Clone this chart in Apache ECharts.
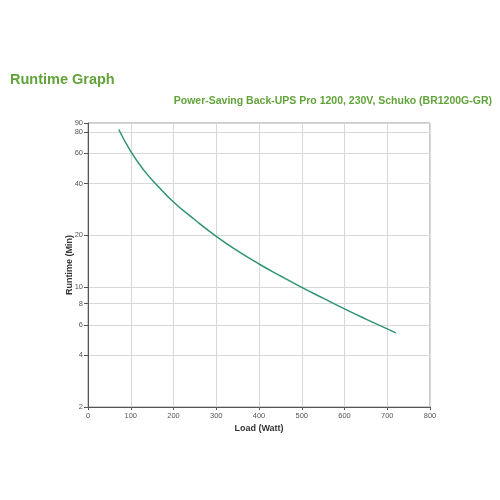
<!DOCTYPE html>
<html>
<head>
<meta charset="utf-8">
<script src="https://cdn.jsdelivr.net/npm/echarts@6/dist/echarts.min.js"></script>
<style>
html,body{margin:0;padding:0;background:#fff;}
#c{width:500px;height:500px;}
</style>
</head>
<body>
<div id="c"></div>
<script>
const loadWatt = [72, 100, 130, 160, 200, 250, 300, 350, 400, 450, 500, 550, 600, 650, 700, 720];
const runtimeMin = [82.5, 61.5, 48, 39.5, 31.2, 24.6, 19.7, 16.2, 13.6, 11.6, 9.95, 8.6, 7.45, 6.5, 5.7, 5.4];
const yTicks = [2, 4, 6, 8, 10, 20, 40, 60, 80, 90];
const xTicks = [0, 100, 200, 300, 400, 500, 600, 700, 800];

const font = 'Liberation Sans, Arial, sans-serif';
const chart = echarts.init(document.getElementById('c'));
chart.setOption({
  animation: false,
  backgroundColor: '#fff',
  title: [
    { text: 'Runtime Graph', left: 10, top: 72, padding: 0,
      textStyle: { fontFamily: font, fontSize: 14.5, fontWeight: 'bold', color: '#62a33a' } },
    { text: 'Power-Saving Back-UPS Pro 1200, 230V, Schuko (BR1200G-GR)', right: 8, top: 96, padding: 0,
      textStyle: { fontFamily: font, fontSize: 10.5, fontWeight: 'bold', color: '#62a33a' } }
  ],
  grid: { left: 88, right: 70, top: 123, bottom: 93, show: true, borderColor: '#999', borderWidth: 1 },
  xAxis: {
    type: 'value', min: 0, max: 800, interval: 100,
    name: 'Load (Watt)', nameLocation: 'middle', nameGap: 17, nameMoveOverlap: false,
    nameTextStyle: { fontFamily: font, fontSize: 9, fontWeight: 'bold', color: '#333' },
    axisLine: { show: true, lineStyle: { color: '#555', width: 1 } },
    axisTick: { show: true, length: 3, lineStyle: { color: '#555' } },
    axisLabel: { fontFamily: font, fontSize: 7.5, color: '#555', margin: 5,
      customValues: xTicks },
    splitLine: { show: true, lineStyle: { color: '#d8d8d8', width: 1 } }
  },
  yAxis: {
    type: 'log', logBase: 10, min: 2, max: 90,
    name: 'Runtime (Min)', nameLocation: 'middle', nameGap: 13.5, nameRotate: 90, nameMoveOverlap: false,
    nameTextStyle: { fontFamily: font, fontSize: 9, fontWeight: 'bold', color: '#333' },
    axisLine: { show: true, lineStyle: { color: '#555', width: 1 } },
    axisTick: { show: true, length: 4, lineStyle: { color: '#555' }, customValues: yTicks },
    axisLabel: { fontFamily: font, fontSize: 7.5, color: '#555', margin: 5,
      customValues: yTicks },
    splitLine: { show: true, lineStyle: { color: '#d8d8d8', width: 1 }, customValues: yTicks },
    minorTick: { show: false }
  },
  series: [{
    type: 'line',
    data: loadWatt.map((x, i) => [x, runtimeMin[i]]),
    smooth: 0.5,
    showSymbol: false,
    lineStyle: { color: '#2f9470', width: 1.5 }
  }]
});
</script>
</body>
</html>
